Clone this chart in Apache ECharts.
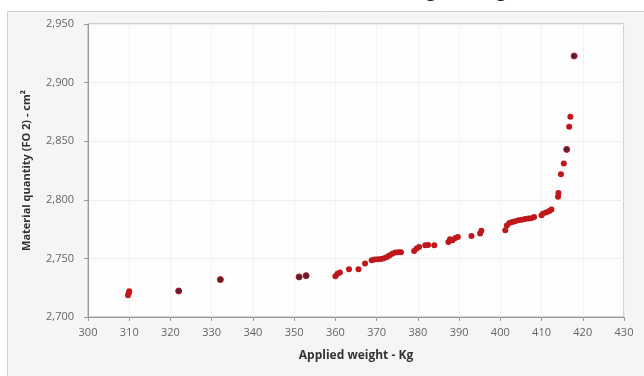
<!DOCTYPE html>
<html>
<head>
<meta charset="utf-8">
<script src="https://cdn.jsdelivr.net/npm/echarts@6/dist/echarts.min.js"></script>
<style>
html,body{margin:0;padding:0;background:#fff;}
#c{width:644px;height:376px;}
</style>
</head>
<body>
<div id="c"></div>
<script>
// Main measurements (Applied weight - Kg, Material quantity)
const weights = [309.7, 309.9, 310.0, 360.0, 360.5, 361.1, 363.3, 365.6, 367.2,
  368.8, 369.5, 370.3, 371.1, 371.8, 372.5, 373.1, 373.8, 374.5, 375.3, 375.9,
  379.1, 379.7, 380.3, 381.8, 382.5, 384.0,
  387.4, 387.8, 388.4, 389.1, 389.7, 393.0, 395.1, 395.4,
  401.2, 401.6, 402.2, 402.9, 403.6, 404.4, 405.2, 406.0, 406.8, 407.5, 408.2,
  410.0, 410.4, 411.2, 411.9, 412.4,
  414.0, 414.1, 414.7, 415.4, 416.7, 417.0];
const quantities = [2718.5, 2720.5, 2722.0, 2734.7, 2737.0, 2738.0, 2740.7, 2740.7, 2745.6,
  2748.4, 2749.0, 2749.3, 2749.5, 2750.1, 2751.2, 2752.4, 2754.0, 2755.0, 2755.2, 2755.2,
  2756.4, 2758.4, 2759.8, 2761.2, 2761.5, 2761.2,
  2764.0, 2766.3, 2765.5, 2767.5, 2768.3, 2769.2, 2771.2, 2773.5,
  2774.0, 2778.0, 2780.3, 2781.1, 2781.7, 2782.6, 2782.9, 2783.7, 2784.0, 2784.3, 2785.4,
  2786.8, 2788.3, 2789.4, 2790.5, 2791.7,
  2802.5, 2805.9, 2821.9, 2831.0, 2862.3, 2870.8];
// Points drawn with a dark centre
const markedWeights = [322.0, 332.1, 351.2, 352.9, 416.1, 417.9];
const markedQuantities = [2722.2, 2731.9, 2734.2, 2735.3, 2843.0, 2922.7];
// Axis ticks
const xTicks = [300, 310, 320, 330, 340, 350, 360, 370, 380, 390, 400, 410, 420, 430];
const yTicks = [2700, 2750, 2800, 2850, 2900, 2950];

const mainData = weights.map((w, i) => [w, quantities[i]]);
const markedData = markedWeights.map((w, i) => [w, markedQuantities[i]]);

const font = '"Open Sans", "Noto Sans", sans-serif';
const chart = echarts.init(document.getElementById('c'));
chart.setOption({
  animation: false,
  backgroundColor: '#ffffff',
  title: {
    text: 'Loading vs weight',
    left: 360, top: -22,
    textStyle: {fontFamily: font, fontSize: 18, fontWeight: 'bold', color: '#111'}
  },
  graphic: [{
    type: 'rect', z: -10, silent: true,
    shape: {x: 7.5, y: 11.5, width: 640, height: 370},
    style: {fill: '#f5f5f5', stroke: '#d0d0d0', lineWidth: 1}
  }],
  grid: {
    left: 88, right: 20, top: 24, bottom: 59,
    show: true, backgroundColor: '#fdfdfd', borderColor: '#a8a8a8', borderWidth: 1
  },
  xAxis: {
    type: 'value', min: 300, max: 430, interval: 10,
    name: 'Applied weight - Kg', nameLocation: 'middle', nameGap: 33,
    nameTextStyle: {fontFamily: font, fontSize: 12, fontWeight: 'bold', color: '#333'},
    axisLine: {show: true, lineStyle: {color: '#999'}},
    axisTick: {show: true, length: 4, lineStyle: {color: '#999'}},
    axisLabel: {fontFamily: font, fontSize: 11, color: '#666', margin: 10,
      customValues: xTicks},
    splitLine: {show: true, lineStyle: {color: '#f2f2f2'}}
  },
  yAxis: {
    type: 'value', min: 2700, max: 2950, interval: 50,
    name: 'Material quantity (FO 2) - cm²', nameLocation: 'middle', nameGap: 56,
    nameTextStyle: {fontFamily: font, fontSize: 11, fontWeight: 'bold', color: '#333'},
    axisLine: {show: true, lineStyle: {color: '#999'}},
    axisTick: {show: true, length: 4, lineStyle: {color: '#999'}},
    axisLabel: {fontFamily: font, fontSize: 11, color: '#666', margin: 14,
      formatter: v => v.toLocaleString('en-US')},
    splitLine: {show: true, lineStyle: {color: '#eeeeee'}}
  },
  series: [{
    type: 'scatter', data: mainData, symbolSize: 6,
    itemStyle: {color: '#c0171d', opacity: 1}
  }, {
    type: 'scatter', data: markedData, symbolSize: 6,
    itemStyle: {color: '#5a2030', borderColor: '#b5151c', borderWidth: 1, opacity: 1}
  }]
});
</script>
</body>
</html>
